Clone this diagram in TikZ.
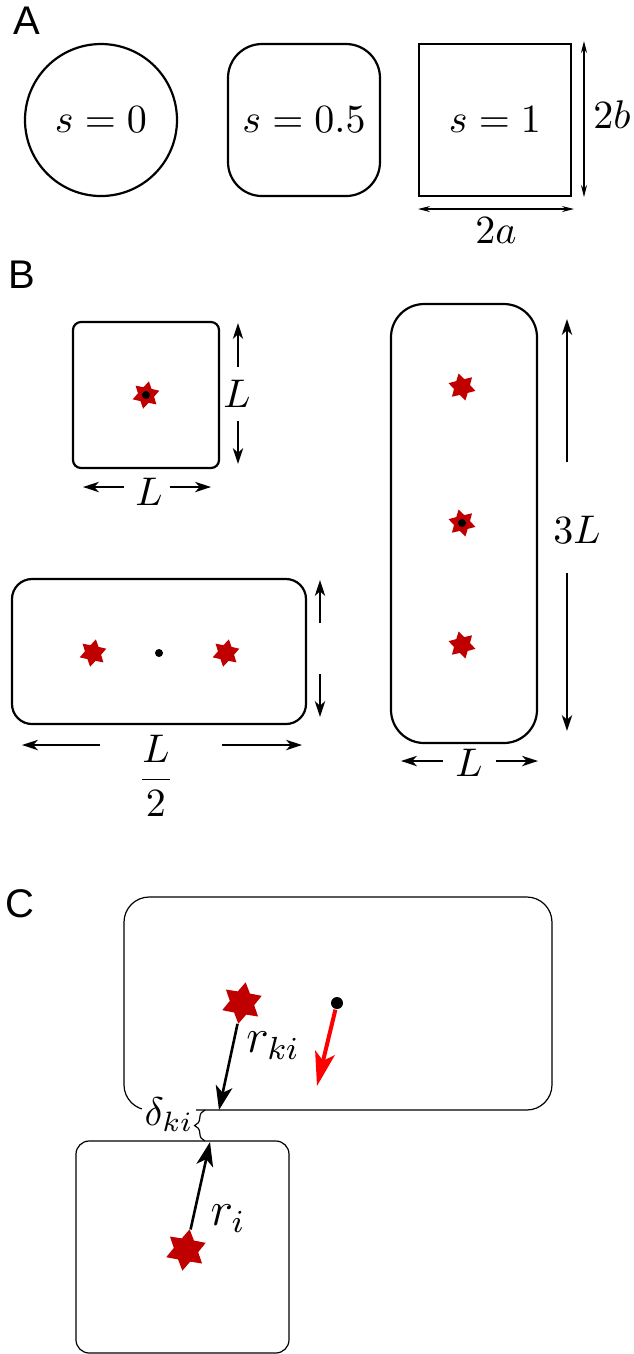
\documentclass[tikz,border=0pt]{standalone}
\usepackage{fontspec}
\setsansfont{Liberation Sans}
\usetikzlibrary{arrows.meta,shapes.geometric,decorations.pathreplacing}
\definecolor{starred}{HTML}{C00000}
\definecolor{velred}{HTML}{FF0000}

\begin{document}
\begin{tikzpicture}[x=0.25pt,y=-0.25pt,
  panel/.style={anchor=north west,inner sep=0pt,font=\sffamily\fontsize{10}{12}\selectfont},
  shp/.style={draw,line width=0.55pt,minimum width=38pt,minimum height=38pt,inner sep=0pt},
  bbox/.style={draw,line width=0.55pt},
  cbox/.style={draw,line width=0.3pt},
  dimA/.style={line width=0.3pt,{Stealth[length=3pt,width=1.5pt]}-{Stealth[length=3pt,width=1.5pt]}},
  dimB/.style={line width=0.4pt,-{Stealth[length=4pt,width=2.6pt,inset=1.2pt]}},
  bstar/.style={star,star points=6,star point ratio=1.7,fill=starred,inner sep=0pt,minimum size=7pt},
  cstar/.style={star,star points=6,star point ratio=1.7,fill=starred,inner sep=0pt,minimum size=10.5pt},
  bdot/.style={circle,fill=black,inner sep=0pt,minimum size=2pt},
  cdot/.style={circle,fill=black,inner sep=0pt,minimum size=3pt},
  rarrow/.style={line width=0.65pt,-{Stealth[length=6pt,width=4.2pt,inset=1.6pt]}}]
\useasboundingbox (0,0) rectangle (634,1354);

% A
\node[panel] (pA) at (13,6) {A};
\node[shp,circle,minimum size=38pt] (c0) at (101,120) {$s=0$};
\node[shp,rounded corners=8.5pt] (c5) at (304,120) {$s=0.5$};
\node[shp] (c1) at (495,120) {$s=1$};
\coordinate (bt) at (584,41);
\coordinate (bb) at (584,197);
\coordinate (al) at (418,209);
\coordinate (ar) at (574,209);
\draw[dimA] (bt)--(bb);
\draw[dimA] (al)--(ar);
\node (lb) at (612,115) {$2b$};
\node (la) at (496,231) {$2a$};

% B
\node[panel] (pB) at (8,260) {B};
\draw[bbox,rounded corners=2pt] (73,322) rectangle (219,468);
\node[bstar,shape border rotate=-12] (s1) at (146,395) {};
\node[bdot] (d1) at (s1) {};
\node (L1v) at (237,394) {$L$};
\node (L1h) at (149,492) {$L$};
\coordinate (u1a) at (238,367); \coordinate (u1b) at (238,323);
\coordinate (w1a) at (238,421); \coordinate (w1b) at (238,464);
\coordinate (h1a) at (124,487); \coordinate (h1b) at (83,487);
\coordinate (g1a) at (170,487); \coordinate (g1b) at (211,487);
\draw[dimB] (u1a)--(u1b);
\draw[dimB] (w1a)--(w1b);
\draw[dimB] (h1a)--(h1b);
\draw[dimB] (g1a)--(g1b);

\draw[bbox,rounded corners=8.3pt] (391,304) rectangle (537,743);
\node[bstar,shape border rotate=14] (s3a) at (462,387) {};
\node[bstar,shape border rotate=14] (s3b) at (462,523) {};
\node[bstar,shape border rotate=14] (s3c) at (462,645) {};
\node[bdot] (d3) at (s3b) {};
\node (L3v) at (577,530) {$3L$};
\node (L3h) at (469,763) {$L$};
\coordinate (u3a) at (567,462); \coordinate (u3b) at (567,319);
\coordinate (w3a) at (567,573); \coordinate (w3b) at (567,731);
\coordinate (h3a) at (443,761); \coordinate (h3b) at (401,761);
\coordinate (g3a) at (496,761); \coordinate (g3b) at (538,761);
\draw[dimB] (u3a)--(u3b);
\draw[dimB] (w3a)--(w3b);
\draw[dimB] (h3a)--(h3b);
\draw[dimB] (g3a)--(g3b);

\draw[bbox,rounded corners=5pt] (12,579) rectangle (306,724);
\node[bstar,shape border rotate=-12] (s2a) at (93,653) {};
\node[bstar,shape border rotate=-12] (s2b) at (226,653) {};
\node[bdot] (d2) at (159,653) {};
\node (L2h) at (156,776) {$\displaystyle\frac{L}{2}$};
\coordinate (u2a) at (320,623); \coordinate (u2b) at (320,580);
\coordinate (w2a) at (320,674); \coordinate (w2b) at (320,717);
\coordinate (h2a) at (100,745); \coordinate (h2b) at (22,745);
\coordinate (g2a) at (222,745); \coordinate (g2b) at (302,745);
\draw[dimB] (u2a)--(u2b);
\draw[dimB] (w2a)--(w2b);
\draw[dimB] (h2a)--(h2b);
\draw[dimB] (g2a)--(g2b);

% C
\node[panel] (pC) at (5,889) {C};
\draw[cbox,rounded corners=6.3pt] (124,897) rectangle (552,1110);
\draw[cbox,rounded corners=3.3pt] (76,1141) rectangle (289,1353);
\node[cstar,shape border rotate=-10] (sk) at (242,1003) {};
\node[cstar,shape border rotate=-10] (si) at (186,1250) {};
\node[cdot] (cm) at (337,1003) {};
\coordinate (tk) at (219,1110);
\coordinate (ti) at (210,1142);
\coordinate (vt) at (317,1086);
\draw[rarrow] (sk)--(tk);
\draw[rarrow] (si)--(ti);
\draw[line width=1pt,velred,-{Stealth[length=8.5pt,width=5pt,inset=2pt]}] (cm)--(vt);
\node[font=\large] (rki) at (273,1046) {$r_{ki}$};
\node[font=\large] (ri) at (228,1219) {$r_i$};
\node[fill=white,inner sep=0.6pt] (dki) at (169,1115) {$\delta_{ki}$};
\coordinate (b1) at (205,1141);
\coordinate (b2) at (205,1110);
\draw[line width=0.3pt,decorate,decoration={brace,amplitude=2.6pt}] (b1)--(b2);
\end{tikzpicture}
\end{document}
